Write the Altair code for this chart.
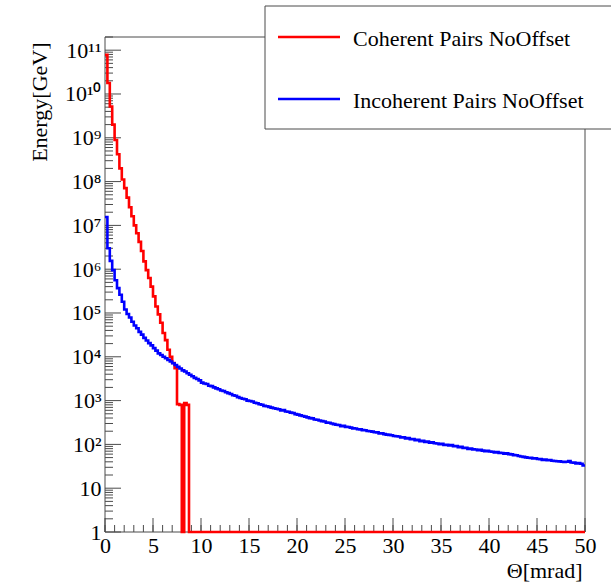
import altair as alt
import pandas as pd

# ---------------- data ----------------
series_names = ["Coherent Pairs NoOffset", "Incoherent Pairs NoOffset"]
series_colors = ["#ff0000", "#0000ff"]

bin_width = 0.25          # mrad
n_bins = 200              # 0 .. 50 mrad

# Coherent pairs: energy per 0.25 mrad bin [GeV]; empty bins are 0
coherent = [7.8e10, 1.78e10, 5.2e9, 2.0e9, 8.9e8, 4.2e8, 2.0e8, 1.12e8, 7.1e7, 4.3e7,
            2.6e7, 1.62e7, 1.0e7, 6.6e6, 4.2e6, 2.6e6, 1.51e6, 9.5e5, 6.3e5, 4.0e5,
            2.4e5, 1.41e5, 9.3e4, 6.0e4, 3.5e4, 2.4e4, 1.45e4, 1.0e4, 7200, 5500,
            830, 800, 0, 880, 800] + [0] * 165

# Incoherent pairs: energy per 0.25 mrad bin [GeV]
incoherent = [
    1.55e7, 3.0e6, 1.55e6, 9.5e5, 5.6e5, 3.7e5, 2.6e5, 1.8e5, 1.2e5, 9.5e4,
    7.9e4, 6.3e4, 5.2e4, 4.5e4, 3.7e4, 3.2e4, 2.7e4, 2.35e4, 2.05e4, 1.82e4,
    1.58e4, 1.38e4, 1.2e4, 1.1e4, 1.0e4, 9300, 8500, 7800, 7100, 6500,
    5900, 5400, 4900, 4600, 4200, 3900, 3600, 3300, 3100, 2900,
    2570, 2450, 2400, 2190, 2140, 2000, 1900, 1820, 1700, 1660,
    1550, 1480, 1410, 1320, 1290, 1200, 1150, 1100, 1070, 1000,
    977, 955, 891, 871, 825, 805, 759, 745, 720, 692,
    668, 650, 636, 598, 610, 565, 558, 530, 520, 490,
    479, 460, 445, 430, 414, 398, 392, 370, 365, 352,
    339, 334, 314, 311, 300, 290, 280, 277, 262, 265,
    251, 249, 242, 232, 230, 222, 220, 212, 210, 203,
    200, 196, 190, 188, 177, 180, 172, 167, 165, 162,
    156, 153, 152, 144, 146, 137, 139, 131, 133, 125,
    127, 119, 121, 114, 116, 109, 111, 106, 105, 101,
    103, 97, 98.5, 94.5, 96, 90.5, 92, 86.5, 88, 82.5,
    84, 79, 80, 77, 76.5, 73.5, 75, 72, 70, 71.5,
    69, 67.8, 65.5, 66.5, 64, 63.5, 61, 62.3, 60, 59.2,
    57, 56.5, 54.5, 52.8, 52, 50.5, 49.7, 49.3, 47.5, 48.3,
    46.5, 46, 44.3, 45, 43.3, 44, 42.3, 41.9, 41.2, 40.9,
    40.2, 39.5, 40.2, 41.7, 38.6, 38.3, 36.9, 37.6, 36.1, 33.1,
]

x_major = [0, 5, 10, 15, 20, 25, 30, 35, 40, 45, 50]
x_minor = list(range(0, 51))
y_major = [1, 10, 1e2, 1e3, 1e4, 1e5, 1e6, 1e7, 1e8, 1e9, 1e10, 1e11]
y_minor = [m * v for v in y_major for m in range(2, 10) if m * v <= 2e11]
y_labels = ["1", "10", "10²", "10³", "10⁴", "10⁵", "10⁶", "10⁷", "10⁸", "10⁹", "10¹⁰", "10¹¹"]

# ---------------- tables ----------------
def hist_rows(name, values):
    rows = []
    for i, v in enumerate(values):
        rows.append({"series": name, "theta": i * bin_width, "energy": v})
    rows.append({"series": name, "theta": n_bins * bin_width, "energy": values[-1]})
    return rows

df_coh = pd.DataFrame(hist_rows(series_names[0], coherent))
df_inc = pd.DataFrame(hist_rows(series_names[1], incoherent))
for d in (df_coh, df_inc):
    d["shown"] = d["energy"].clip(lower=1)   # empty bins drawn on the axis floor

# ---------------- layout ----------------
W, H = 480, 495
FONT = "Liberation Serif"
FRAME = "#4a4a4a"
LW = 2.6

xscale = alt.Scale(domain=[0, 50], nice=False, zero=False)
yscale = alt.Scale(type="log", domain=[1, 2e11], nice=False)

label_expr = "[" + ",".join("'%s'" % s for s in y_labels) + "][round(log(datum.value)/LN10)]"

xaxis = alt.Axis(values=x_major, ticks=False, domain=False, grid=False,
                 labelFont=FONT, labelFontSize=22, labelColor="black",
                 labelPadding=3, labelAngle=0, labelFlush=False, labelOverlap=False,
                 format="d",
                 title="Θ[mrad]", titleFont=FONT, titleFontSize=22,
                 titleFontWeight="normal", titleColor="black",
                 titleAlign="right", titleBaseline="alphabetic",
                 titleX=477, titleY=45)
yaxis = alt.Axis(values=y_major, labelExpr=label_expr, ticks=False, domain=False, grid=False,
                 labelFont=FONT, labelFontSize=22, labelColor="black",
                 labelPadding=4, labelOverlap=False, labelBaseline="middle",
                 title="Energy[GeV]", titleFont=FONT, titleFontSize=22,
                 titleFontWeight="normal", titleColor="black",
                 titleAngle=270, titleAlign="right", titleBaseline="alphabetic",
                 titleX=-59, titleY=5)

one = pd.DataFrame({"k": [0]})

frame = alt.Chart(one).mark_rect(filled=False, stroke=FRAME, strokeWidth=1).encode(
    x=alt.value(0), x2=alt.value(W), y=alt.value(0), y2=alt.value(H))

ytick_major = alt.Chart(pd.DataFrame({"v": y_major})).mark_rule(color=FRAME, strokeWidth=1).encode(
    y=alt.Y("v:Q", scale=yscale, axis=yaxis), x=alt.value(0), x2=alt.value(16))
ytick_minor = alt.Chart(pd.DataFrame({"v": y_minor})).mark_rule(color=FRAME, strokeWidth=1).encode(
    y=alt.Y("v:Q", scale=yscale, axis=yaxis), x=alt.value(0), x2=alt.value(8))
xtick_major = alt.Chart(pd.DataFrame({"v": x_major})).mark_rule(color=FRAME, strokeWidth=1).encode(
    x=alt.X("v:Q", scale=xscale, axis=xaxis), y=alt.value(H), y2=alt.value(H - 14))
xtick_minor = alt.Chart(pd.DataFrame({"v": x_minor})).mark_rule(color=FRAME, strokeWidth=1).encode(
    x=alt.X("v:Q", scale=xscale, axis=xaxis), y=alt.value(H), y2=alt.value(H - 7))

coh_line = alt.Chart(df_coh).mark_line(interpolate="step-after", strokeWidth=LW,
                                       color=series_colors[0]).encode(
    x=alt.X("theta:Q", scale=xscale, axis=xaxis),
    y=alt.Y("shown:Q", scale=yscale, axis=yaxis),
    order="theta:Q")
inc_line = alt.Chart(df_inc).mark_line(interpolate="step-after", strokeWidth=LW,
                                       color=series_colors[1]).encode(
    x=alt.X("theta:Q", scale=xscale, axis=xaxis),
    y=alt.Y("shown:Q", scale=yscale, axis=yaxis),
    order="theta:Q")

legend_box = alt.Chart(one).mark_rect(fill="white", stroke=FRAME, strokeWidth=1).encode(
    x=alt.value(160), x2=alt.value(560), y=alt.value(-31), y2=alt.value(92))
leg_red = alt.Chart(one).mark_rule(color=series_colors[0], strokeWidth=LW).encode(
    x=alt.value(173), x2=alt.value(235), y=alt.value(0))
leg_blue = alt.Chart(one).mark_rule(color=series_colors[1], strokeWidth=LW).encode(
    x=alt.value(173), x2=alt.value(235), y=alt.value(62))
leg_t1 = alt.Chart(one).mark_text(align="left", baseline="alphabetic", font=FONT,
                                  fontSize=22, color="black").encode(
    x=alt.value(248), y=alt.value(8.7), text=alt.value(series_names[0]))
leg_t2 = alt.Chart(one).mark_text(align="left", baseline="alphabetic", font=FONT,
                                  fontSize=22, color="black").encode(
    x=alt.value(248), y=alt.value(71.3), text=alt.value(series_names[1]))

chart = alt.layer(
    frame, ytick_minor, ytick_major, xtick_minor, xtick_major,
    coh_line, inc_line,
    legend_box, leg_red, leg_blue, leg_t1, leg_t2,
).properties(
    width=W, height=H,
    padding={"left": 105, "top": 37, "right": 26, "bottom": 52},
    autosize=alt.AutoSizeParams(type="none"),
    background="white",
).configure_view(strokeWidth=0)

chart.save("out.html", embed_options={"renderer": "svg", "actions": False})
